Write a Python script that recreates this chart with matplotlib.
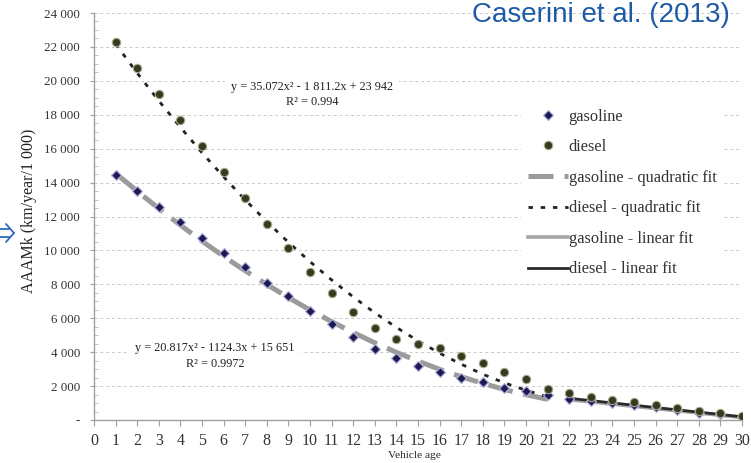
import matplotlib
matplotlib.use('Agg')
import matplotlib.pyplot as plt
from matplotlib.ticker import FixedLocator, MultipleLocator
from matplotlib.lines import Line2D

# ---------------- data ----------------
age = list(range(1, 31))
gasoline = [14450, 13500, 12550, 11650, 10750, 9850, 9000, 8100, 7300, 6450,
            5650, 4900, 4200, 3650, 3200, 2850, 2500, 2220, 1900, 1700,
            1450, 1250, 1100, 1000, 900, 780, 600, 430, 330, 200]
diesel = [22300, 20750, 19250, 17700, 16150, 14650, 13100, 11550, 10150, 8750,
          7500, 6350, 5450, 4800, 4500, 4250, 3800, 3350, 2850, 2400,
          1850, 1600, 1350, 1200, 1050, 880, 700, 530, 400, 230]

fit_age = list(range(1, 22))
gasoline_quad = [14550, 13490, 12470, 11490, 10550, 9650, 8800, 7990, 7220, 6490,
                 5800, 5160, 4550, 3990, 3470, 2990, 2550, 2160, 1800, 1490, 1220]
diesel_quad = [22170, 20460, 18820, 17260, 15760, 14340, 12980, 11700, 10480, 9340,
               8260, 7260, 6320, 5460, 4670, 3940, 3290, 2700, 2190, 1750, 1370]

lin_age = [22, 30]
gasoline_lin = [1200, 150]
diesel_lin = [1280, 190]

y_ticks = [0, 2000, 4000, 6000, 8000, 10000, 12000, 14000, 16000, 18000, 20000, 22000, 24000]
y_ticklabels = ['-', '2 000', '4 000', '6 000', '8 000', '10 000', '12 000', '14 000',
                '16 000', '18 000', '20 000', '22 000', '24 000']
x_ticks = list(range(0, 31))

eq_diesel = "y = 35.072x² - 1 811.2x + 23 942\nR² = 0.994"
eq_gasoline = "y = 20.817x² - 1124.3x + 15 651\nR² = 0.9972"
labels = ['gasoline', 'diesel', 'gasoline - quadratic fit', 'diesel - quadratic fit',
          'gasoline - linear fit', 'diesel - linear fit']

# ---------------- figure ----------------
SERIF = ['Liberation Serif', 'DejaVu Serif']
W, H = 751, 463
fig = plt.figure(figsize=(W / 100, H / 100), dpi=100)
ax = fig.add_axes([94 / W, 1 - 420 / H, (742 - 94) / W, (420 - 13) / H])

ax.set_xlim(0, 30)
ax.set_ylim(0, 24000)

grid_c = '#c8c8c8'
for yv in y_ticks[1:]:
    ax.axhline(yv, color=grid_c, lw=0.7, ls=(0, (3, 3)), zorder=0.5)

gcol = '#9b9b9b'
dcol = '#222222'
ax.plot(fit_age, gasoline_quad, color=gcol, lw=3.6, ls=(0, (5, 2.2)), zorder=3,
        solid_capstyle='butt', dash_capstyle='butt')
ax.plot(fit_age, diesel_quad, color=dcol, lw=2.0, ls=(0, (1.6, 2.8)), zorder=3)
ax.plot(lin_age, gasoline_lin, color='#a5a5a5', lw=2.6, zorder=3)
ax.plot(lin_age, diesel_lin, color='#2a2a2a', lw=2.0, zorder=3)

ax.plot(age, gasoline, ls='none', marker='D', ms=5.0, color='#1c1a50',
        mec='#b0b0d8', mew=0.9, zorder=4)
ax.plot(age, diesel, ls='none', marker='o', ms=6.0, color='#363b1e',
        mec='#a8a890', mew=0.8, zorder=4)

# equations
ax.text(10.1, 19200, eq_diesel, ha='center', va='center', multialignment='center',
        fontsize=8.8, family=SERIF, color='#222222', linespacing=1.25, zorder=2,
        bbox=dict(boxstyle='square,pad=0.5', fc='white', ec='none'))
ax.text(5.6, 3780, eq_gasoline, ha='center', va='center', multialignment='center',
        fontsize=8.8, family=SERIF, color='#222222', linespacing=1.4, zorder=2,
        bbox=dict(boxstyle='square,pad=0.5', fc='white', ec='none'))

# axes styling
for s in ['top', 'right']:
    ax.spines[s].set_visible(False)
for s in ['left', 'bottom']:
    ax.spines[s].set_color('#a0a0a0')
    ax.spines[s].set_linewidth(1.0)

ax.xaxis.set_major_locator(FixedLocator(x_ticks))
ax.set_xticklabels([str(v) for v in x_ticks], fontsize=11.5, family=SERIF, color='#333333')
ax.yaxis.set_major_locator(FixedLocator(y_ticks))
ax.set_yticklabels(y_ticklabels, fontsize=9.4, family=SERIF, color='#333333')
ax.yaxis.set_minor_locator(MultipleLocator(500))
ax.tick_params(axis='x', direction='out', length=4, color='#a0a0a0', pad=5.5)
ax.tick_params(axis='y', which='major', direction='out', length=3, color='#a0a0a0', pad=7)
ax.tick_params(axis='y', which='minor', direction='in', length=3, color='#b8b8b8')

fig.text(414 / W, 1 - 455 / H, 'Vehicle age', ha='center', va='center',
         fontsize=8.2, family=SERIF, color='#222222')
fig.text(29 / W, 1 - 211 / H, 'AAAMk (km/year/1 000)', ha='center', va='center',
         rotation=90, fontsize=11.5, family=SERIF, color='#222222')

# legend
handles = [
    Line2D([], [], ls='none', marker='D', ms=5.0, color='#1c1a50', mec='#b0b0d8', mew=0.9),
    Line2D([], [], ls='none', marker='o', ms=6.0, color='#363b1e', mec='#a8a890', mew=0.8),
    Line2D([], [], color=gcol, lw=3.6, ls=(0, (5, 2.2))),
    Line2D([], [], color=dcol, lw=2.0, ls=(0, (1.6, 2.8))),
    Line2D([], [], color='#a5a5a5', lw=2.6),
    Line2D([], [], color='#2a2a2a', lw=2.0),
]
leg = ax.legend(handles, labels, loc='upper left', bbox_to_anchor=(521 / W, 1 - 102 / H),
                bbox_transform=fig.transFigure, frameon=True, fancybox=False,
                facecolor='white', edgecolor='none', framealpha=1,
                prop={'family': SERIF, 'size': 11.8}, handlelength=2.45,
                handletextpad=0.05, labelspacing=0.89, borderaxespad=0, borderpad=0.4)
leg.set_zorder(2)
for t in leg.get_texts():
    t.set_color('#333333')

# title
fig.text(730 / W, 1 - 22 / H, 'Caserini et al. (2013)', ha='right', va='baseline',
         fontsize=20, family=['Liberation Sans', 'DejaVu Sans'], color='#1d5ba6')

# decorative hollow arrow at the left edge (figure pixel coordinates)
acol = '#2a6ac0'
def px(x, y):
    return (x / W, 1 - y / H)
for seg in [[(0, 229), (9, 229)], [(0, 237), (9, 237)], [(6, 224), (14, 233)], [(14, 233), (6, 242)]]:
    (x0, y0), (x1, y1) = px(*seg[0]), px(*seg[1])
    fig.add_artist(Line2D([x0, x1], [y0, y1], transform=fig.transFigure,
                          color=acol, lw=1.3, solid_capstyle='round'))

fig.savefig('out.png', dpi=100)
